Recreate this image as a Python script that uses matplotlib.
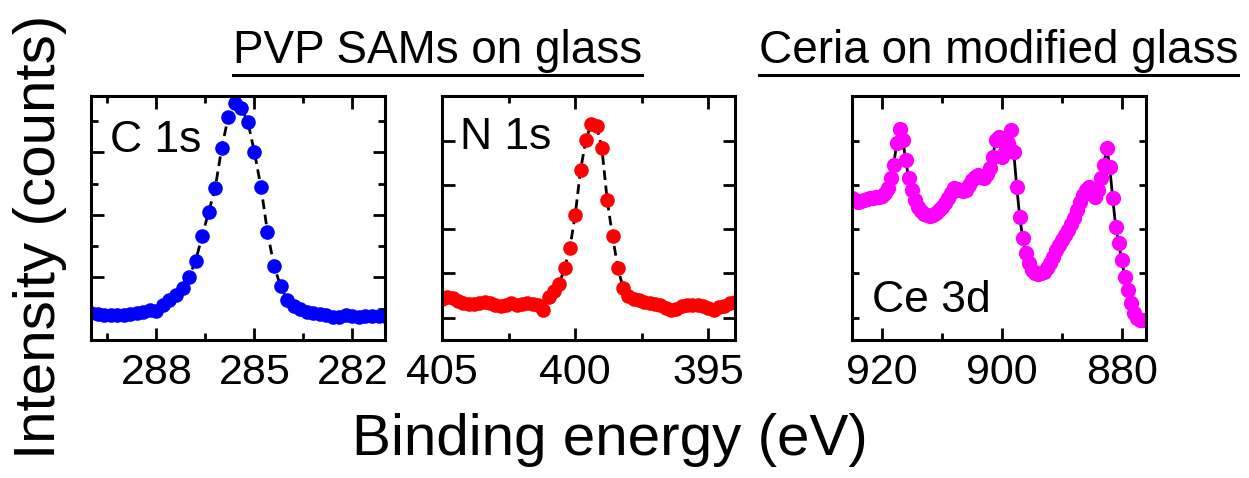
import matplotlib
matplotlib.use("Agg")
import matplotlib.pyplot as plt
from matplotlib.ticker import MultipleLocator, FixedLocator
from matplotlib.lines import Line2D

plt.rcParams['font.family'] = ['Liberation Sans', 'DejaVu Sans']

# C 1s (PVP SAMs on glass)
c1s_ev = [290.0, 289.8, 289.6, 289.4, 289.2, 289.0, 288.8, 288.6, 288.4, 288.2,
          288.0, 287.8, 287.6, 287.4, 287.2, 287.0, 286.8, 286.6, 286.4, 286.2,
          286.0, 285.8, 285.6, 285.4, 285.2, 285.0, 284.8, 284.6, 284.4, 284.2,
          284.0, 283.8, 283.6, 283.4, 283.2, 283.0, 282.8, 282.6, 282.4, 282.2,
          282.0, 281.8, 281.6, 281.4, 281.2, 281.0]
c1s_counts = [27, 26, 25, 24.5, 24.5, 25, 26, 26.5, 28, 29.5,
              28.5, 35, 40, 45, 52, 63, 79, 104, 128, 152,
              192, 223, 237, 232, 218, 188, 153, 108, 74, 54,
              40, 34, 31, 28, 27, 26, 25, 23, 23, 24.5,
              23.5, 23, 24, 23.5, 24, 24]

# N 1s (PVP SAMs on glass)
n1s_ev = [405.0, 404.8, 404.6, 404.4, 404.2, 404.0, 403.8, 403.6, 403.4, 403.2,
          403.0, 402.8, 402.6, 402.4, 402.2, 402.0, 401.8, 401.6, 401.4, 401.2,
          401.0, 400.8, 400.6, 400.4, 400.2, 400.0, 399.8, 399.6, 399.4, 399.2,
          399.0, 398.8, 398.6, 398.4, 398.2, 398.0, 397.8, 397.6, 397.4, 397.2,
          397.0, 396.8, 396.6, 396.4, 396.2, 396.0, 395.8, 395.6, 395.4, 395.2,
          395.0, 394.8, 394.6, 394.4, 394.2, 394.0]
n1s_counts = [41, 42.5, 41.5, 39, 36.5, 36, 36, 37, 38, 36.5,
              35, 34, 35, 36.5, 35, 36, 36.5, 36, 35, 30,
              43, 49, 56, 72, 92, 125, 170, 200, 216, 214,
              192, 140, 104, 72, 52, 44, 41, 40, 38, 37,
              36, 35, 32, 30, 31, 34, 35, 35, 35, 34,
              32, 30, 33, 34, 37, 38]

# Ce 3d (ceria on modified glass)
ce3d_ev = [925.0, 924.5, 924.0, 923.5, 923.0, 922.5, 922.0, 921.5, 921.0, 920.5,
           920.0, 919.5, 919.0, 918.5, 918.0, 917.5, 917.0, 916.5, 916.0, 915.5,
           915.0, 914.5, 914.0, 913.5, 913.0, 912.5, 912.0, 911.5, 911.0, 910.5,
           910.0, 909.5, 909.0, 908.5, 908.0, 907.5, 907.0, 906.5, 906.0, 905.5,
           905.0, 904.5, 904.0, 903.5, 903.0, 902.5, 902.0, 901.5, 901.0, 900.5,
           900.0, 899.5, 899.0, 898.5, 898.0, 897.5, 897.0, 896.5, 896.0, 895.5,
           895.0, 894.5, 894.0, 893.5, 893.0, 892.5, 892.0, 891.5, 891.0, 890.5,
           890.0, 889.5, 889.0, 888.5, 888.0, 887.5, 887.0, 886.5, 886.0, 885.5,
           885.0, 884.5, 884.0, 883.5, 883.0, 882.5, 882.0, 881.5, 881.0, 880.5,
           880.0, 879.5, 879.0, 878.5, 878.0, 877.5, 877.0, 876.5, 876.0]
ce3d_counts = [141.7, 140, 138.3, 139, 140, 141, 141.7, 142, 142.7, 143,
               144, 146.7, 151.7, 161.7, 175, 196.7, 210.7, 200, 180, 161.7,
               150, 140, 133.3, 129, 126, 124.5, 124, 125, 127.3, 130,
               133.3, 137, 141.7, 147, 151.7, 151, 150, 149, 150, 155,
               160, 163, 165, 163, 161.7, 166, 171.7, 183.3, 200, 203.3,
               183.3, 188.3, 196.7, 210, 188.3, 153.3, 123.3, 101.7, 86.7, 76.7,
               70, 67, 66, 66.5, 68.3, 72, 76.7, 83, 90, 95,
               100, 105, 110, 116, 121.7, 130, 138.3, 145, 150, 153.3,
               150, 143.3, 150, 161.7, 175, 191.7, 173.3, 141.7, 113.3, 96.7,
               80, 63.3, 50, 36.7, 26.7, 22, 20, 19.5, 20]

fig = plt.figure(figsize=(12.49, 4.78), dpi=100)

ax1 = fig.add_axes([0.0729, 0.2887, 0.2354, 0.5105])
ax2 = fig.add_axes([0.3539, 0.2887, 0.2346, 0.5105])
ax3 = fig.add_axes([0.6819, 0.2887, 0.2354, 0.5105])


def style(ax, xlim, xmaj, xmin, ymaj, ymin):
    ax.set_xlim(*xlim)
    ax.set_ylim(0, 244)
    ax.xaxis.set_major_locator(MultipleLocator(xmaj))
    ax.xaxis.set_minor_locator(MultipleLocator(xmin))
    ax.yaxis.set_major_locator(FixedLocator(ymaj))
    ax.yaxis.set_minor_locator(FixedLocator(ymin))
    ax.tick_params(which='both', direction='in', top=True, right=True, width=2)
    ax.tick_params(which='major', length=9)
    ax.tick_params(which='minor', length=5)
    ax.tick_params(axis='x', which='major', labelsize=31, pad=9)
    ax.tick_params(axis='y', labelleft=False)
    for s in ax.spines.values():
        s.set_linewidth(2.2)


# C 1s
ax1.plot(c1s_ev, c1s_counts, color='black', ls=(0, (3.5, 2)), lw=2, zorder=1)
ax1.plot(c1s_ev, c1s_counts, 'o', color='blue', ms=10.5, mec='none', zorder=2)
style(ax1, (290, 281), 3, 1.5, [62.5, 125, 187.5], [31.25, 93.75, 156.25, 218.75])
ax1.text(0.065, 0.77, 'C 1s', transform=ax1.transAxes, fontsize=32, va='baseline')

# N 1s
ax2.plot(n1s_ev, n1s_counts, color='black', ls=(0, (3.5, 2)), lw=2, zorder=1)
ax2.plot(n1s_ev, n1s_counts, 'o', color='red', ms=10.5, mec='none', zorder=2)
style(ax2, (405, 394), 5, 2.5, [22.3, 66.5, 110.8, 155, 199.3], [])
ax2.text(0.062, 0.782, 'N 1s', transform=ax2.transAxes, fontsize=32, va='baseline')

# Ce 3d
ax3.plot(ce3d_ev, ce3d_counts, color='black', lw=2, zorder=1)
ax3.plot(ce3d_ev, ce3d_counts, 'o', color='magenta', ms=11, mec='none', zorder=2)
style(ax3, (925, 876), 20, 10, [], [22.3, 66.5, 110.8, 155, 199.3])
ax3.text(0.07, 0.116, 'Ce 3d', transform=ax3.transAxes, fontsize=32, va='baseline')

# axis labels
fig.text(0.032, 0.504, 'Intensity (counts)', rotation=90, fontsize=42,
         ha='center', va='center')
fig.text(0.488, 0.0795, 'Binding energy (eV)', fontsize=42, ha='center', va='center')

# underlined group titles
t1 = fig.text(0.3503, 0.868, 'PVP SAMs on glass', fontsize=33, ha='center', va='baseline')
t2 = fig.text(0.7994, 0.868, 'Ceria on modified glass', fontsize=33, ha='center', va='baseline')

fig.canvas.draw()
renderer = fig.canvas.get_renderer()
for t in (t1, t2):
    bb = t.get_window_extent(renderer).transformed(fig.transFigure.inverted())
    fig.add_artist(Line2D([bb.x0, bb.x1], [bb.y0 - 0.004, bb.y0 - 0.004],
                          transform=fig.transFigure, color='black', lw=2.2))

fig.savefig('out.png', dpi=100)
